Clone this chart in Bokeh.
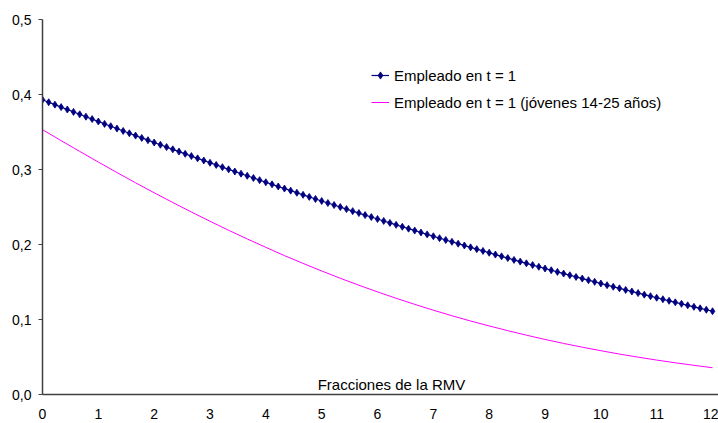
from bokeh.plotting import figure
from bokeh.models import FixedTicker, CustomJSTickFormatter, Label, Legend, LegendItem, Range1d
from bokeh.embed import file_html
from bokeh.resources import INLINE

# ---- data ----
x_ticks = [0, 1, 2, 3, 4, 5, 6, 7, 8, 9, 10, 11, 12]
y_ticks = [0.0, 0.1, 0.2, 0.3, 0.4, 0.5]

# "Empleado en t = 1": 109 points, x from 0 to 12 in steps of 1/9
empleado_x = [i / 9 for i in range(109)]
empleado_y = [
    0.3930, 0.3897, 0.3865, 0.3832, 0.3800, 0.3768, 0.3736, 0.3704, 0.3672, 0.3640,
    0.3608, 0.3577, 0.3546, 0.3514, 0.3483, 0.3452, 0.3421, 0.3391, 0.3360, 0.3330,
    0.3299, 0.3269, 0.3239, 0.3209, 0.3179, 0.3149, 0.3120, 0.3090, 0.3061, 0.3031,
    0.3002, 0.2973, 0.2944, 0.2916, 0.2887, 0.2858, 0.2830, 0.2802, 0.2774, 0.2746,
    0.2718, 0.2690, 0.2662, 0.2635, 0.2607, 0.2580, 0.2553, 0.2526, 0.2499, 0.2472,
    0.2445, 0.2419, 0.2392, 0.2366, 0.2340, 0.2314, 0.2288, 0.2262, 0.2237, 0.2211,
    0.2186, 0.2160, 0.2135, 0.2110, 0.2085, 0.2060, 0.2036, 0.2011, 0.1987, 0.1962,
    0.1938, 0.1914, 0.1890, 0.1866, 0.1842, 0.1819, 0.1795, 0.1772, 0.1749, 0.1726,
    0.1703, 0.1680, 0.1657, 0.1635, 0.1612, 0.1590, 0.1568, 0.1546, 0.1524, 0.1502,
    0.1480, 0.1458, 0.1437, 0.1416, 0.1394, 0.1373, 0.1352, 0.1331, 0.1311, 0.1290,
    0.1270, 0.1249, 0.1229, 0.1209, 0.1189, 0.1169, 0.1149, 0.1130, 0.1110,
]

# "Empleado en t = 1 (jóvenes 14-25 años)": x from 0 to 12 in steps of 1/3
jovenes_x = [i / 3 for i in range(37)]
jovenes_y = [
    0.3531, 0.3385, 0.3241, 0.3099, 0.2960, 0.2823, 0.2690, 0.2560, 0.2433, 0.2310,
    0.2190, 0.2074, 0.1962, 0.1852, 0.1748, 0.1647, 0.1550, 0.1457, 0.1368, 0.1283,
    0.1202, 0.1124, 0.1050, 0.0980, 0.0914, 0.0851, 0.0791, 0.0734, 0.0681, 0.0631,
    0.0584, 0.0539, 0.0498, 0.0459, 0.0423, 0.0389, 0.0357,
]

serie1_label = "Empleado en t = 1"
serie2_label = "Empleado en t = 1 (jóvenes 14-25 años)"
axis_title = "Fracciones de la RMV"

FONT = "Liberation Sans"

p = figure(width=718, height=423, output_backend="svg", toolbar_location=None,
           x_range=Range1d(0, 12.107), y_range=Range1d(0, 0.5),
           min_border_left=42, min_border_right=0, min_border_top=19, min_border_bottom=29)
p.outline_line_color = None
p.background_fill_color = "white"
p.border_fill_color = "white"

# grid: only the top line at 0,5
p.xgrid.visible = False
p.ygrid.ticker = FixedTicker(ticks=[0.5])
p.ygrid.grid_line_color = "#8c8c8c"
p.ygrid.grid_line_width = 1

# axes
p.xaxis.ticker = FixedTicker(ticks=x_ticks)
p.yaxis.ticker = FixedTicker(ticks=y_ticks)
p.yaxis.formatter = CustomJSTickFormatter(code="return tick.toFixed(1).replace('.', ',');")
for ax in (p.xaxis[0], p.yaxis[0]):
    ax.axis_line_color = "#404040"
    ax.axis_line_width = 1.5
    ax.major_label_text_font = FONT
    ax.major_label_text_font_size = "14px"
    ax.major_label_text_color = "black"
    ax.minor_tick_line_color = None
    ax.major_tick_in = 0
p.yaxis.major_tick_out = 4
p.yaxis.major_tick_line_color = "#404040"
p.yaxis.major_label_standoff = 7
p.xaxis.major_tick_line_color = None
p.xaxis.major_tick_out = 0
p.xaxis.major_label_standoff = 14

# series
l1 = p.line(empleado_x, empleado_y, line_color="#000080", line_width=1.2)
s1 = p.scatter(empleado_x, empleado_y, marker="diamond", size=7,
               fill_color="#000080", line_color="#000080", line_width=0.8)
l2 = p.line(jovenes_x, jovenes_y, line_color="#FF00FF", line_width=1)

legend = Legend(items=[LegendItem(label=serie1_label, renderers=[l1, s1]),
                       LegendItem(label=serie2_label, renderers=[l2])],
                location=(329, 282))
legend.padding = 0
legend.margin = 0
legend.spacing = 7
legend.glyph_width = 18
legend.glyph_height = 20
legend.label_height = 20
legend.label_standoff = 5
legend.label_text_font = FONT
legend.label_text_font_size = "15px"
legend.label_text_color = "black"
legend.border_line_color = None
legend.background_fill_alpha = 0
p.add_layout(legend, "center")

p.add_layout(Label(x=6.25, y=0.0133, text=axis_title, text_align="center",
                   text_baseline="alphabetic", text_font=FONT,
                   text_font_size="15px", text_color="black"))

open("out.html", "w").write(file_html(p, INLINE))
